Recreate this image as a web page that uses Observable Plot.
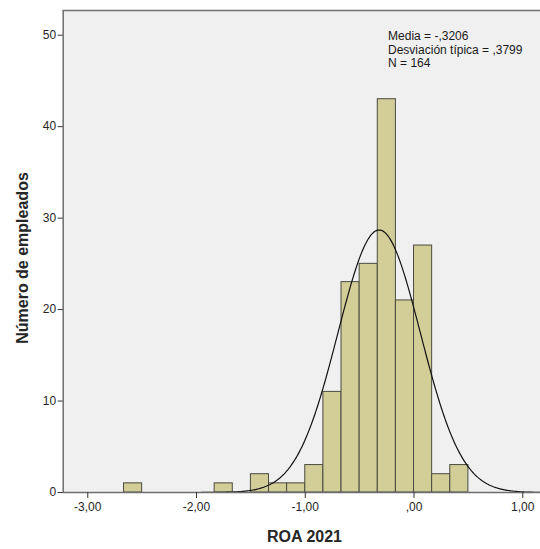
<!DOCTYPE html>
<html>
<head>
<meta charset="utf-8">
<script src="https://cdn.jsdelivr.net/npm/d3@7"></script>
<script src="https://cdn.jsdelivr.net/npm/@observablehq/plot@0.6"></script>
<style>
  html, body { margin: 0; padding: 0; background: #fff; }
  #chart svg { display: block; }
</style>
</head>
<body>
<div id="chart"></div>
<script>
// Histogram bins (width 1/6, edges aligned at 0), in sixths
const binStartsSixths = [-16, -11, -9, -8, -7, -6, -5, -4, -3, -2, -1, 0, 1, 2];
const binCounts       = [  1,   1,  2,  1,  1,  3, 11, 23, 25, 43, 21, 27, 2, 3];
const binWidth = 1 / 6;
const mean = -0.3206;
const sd = 0.3799;
const n = 164;
const xTicks = [-3, -2, -1, 0, 1];
const yTicks = [0, 10, 20, 30, 40, 50];
const statsLines = ["Media = -,3206", "Desviación típica = ,3799", "N = 164"];

const bins = binStartsSixths.map((s, i) => ({ x1: s / 6, x2: (s + 1) / 6, count: binCounts[i] }));

// Fitted normal curve from the stated mean, sd and N
const xDomain = [-3.226, 1.163];
const curve = d3.range(0, 401).map(i => {
  const x = xDomain[0] + (xDomain[1] - xDomain[0]) * i / 400;
  const z = (x - mean) / sd;
  return { x, y: n * binWidth * Math.exp(-0.5 * z * z) / (sd * Math.sqrt(2 * Math.PI)) };
});

const fmt = v => {
  const s = Math.abs(v).toFixed(2).replace(".", ",");
  const t = s.startsWith("0") ? s.slice(1) : s;
  return (v < 0 ? "-" : "") + t;
};

const axisColor = "#6e6e6e";
const textColor = "#262626";
const yTop = 52.7;

const chart = Plot.plot({
  width: 540,
  height: 549,
  marginLeft: 62.7,
  marginRight: 0,
  marginTop: 10,
  marginBottom: 57,
  style: { fontFamily: "Liberation Sans, Arial, sans-serif", fontSize: "12px", color: textColor, background: "#fff" },
  x: { domain: xDomain, ticks: xTicks, tickFormat: fmt },
  y: { domain: [0, yTop], ticks: yTicks },
  marks: [
    Plot.frame({ fill: "#f0f0f0", stroke: null }),
    Plot.rectY(bins, { x1: "x1", x2: "x2", y: "count", fill: "#d3ce98", stroke: "#4a4a40", strokeWidth: 1 }),
    Plot.line(curve, { x: "x", y: "y", stroke: "#111", strokeWidth: 1.2 }),
    Plot.ruleX([xDomain[0]], { stroke: axisColor, strokeWidth: 1.5 }),
    Plot.ruleY([yTop], { stroke: axisColor, strokeWidth: 1.5 }),
    Plot.ruleY([0], { stroke: axisColor, strokeWidth: 1.5 }),
    Plot.axisX({ ticks: xTicks, tickFormat: fmt, tickSize: 6, tickPadding: 4, stroke: "#333", fill: textColor, label: null, fontSize: 12 }),
    Plot.axisY({ ticks: yTicks, tickSize: 5, tickPadding: 2, stroke: "#333", fill: textColor, label: null, fontSize: 12 }),
    Plot.text(statsLines, {
      x: -0.239, y: (d, i) => 49.89 - i * 1.48, text: d => d, textAnchor: "start",
      fill: "#1a1a1a", fontSize: 12, lineAnchor: "middle"
    })
  ]
});

// Axis titles
const svg = d3.select(chart);
svg.append("text")
  .attr("x", 304.5).attr("y", 541.5)
  .attr("text-anchor", "middle")
  .attr("font-family", "Liberation Sans, Arial, sans-serif")
  .attr("font-size", 16).attr("font-weight", "bold").attr("fill", textColor)
  .text("ROA 2021");
svg.append("text")
  .attr("transform", "translate(28,258) rotate(-90)")
  .attr("text-anchor", "middle")
  .attr("font-family", "Liberation Sans, Arial, sans-serif")
  .attr("font-size", 16).attr("font-weight", "bold").attr("fill", textColor)
  .text("Número de empleados");

document.getElementById("chart").appendChild(chart);
</script>
</body>
</html>
